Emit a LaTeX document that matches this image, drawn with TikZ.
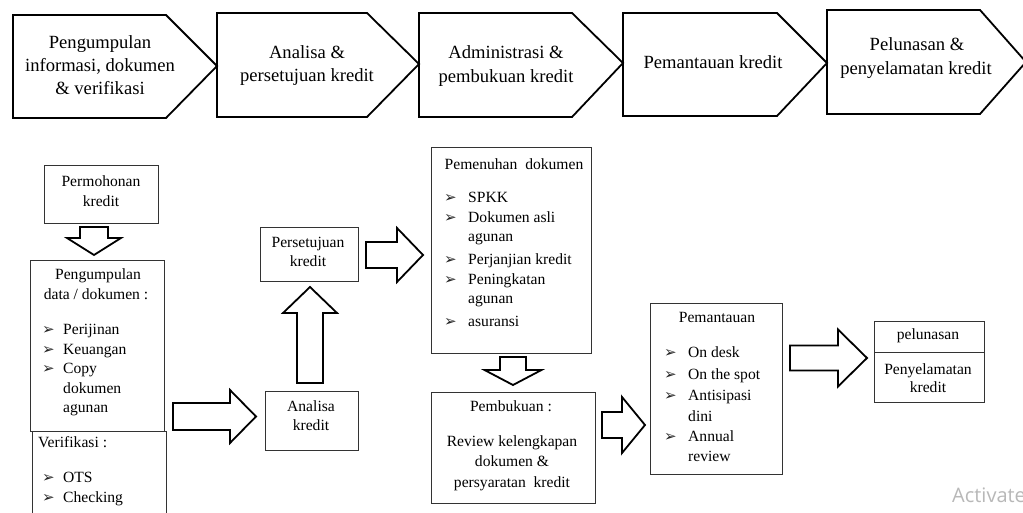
\documentclass[tikz,border=0pt]{standalone}
\usepackage{fontspec}
\setmainfont{Liberation Serif}
\newfontfamily\dejavu{DejaVu Sans}
\newfontfamily\wmfont{Open Sans}
\newcommand{\rarr}[6]{% x0, xbase, xtip, yc, shaft half, head half
  \draw[barrow] (#1,#4-#5) -- (#2,#4-#5) -- (#2,#4-#6) -- (#3,#4) -- (#2,#4+#6) -- (#2,#4+#5) -- (#1,#4+#5) -- cycle;}
\newcommand{\varr}[6]{% y0, ybase, ytip, xc, shaft half, head half
  \draw[barrow] (#4-#5,#1) -- (#4-#5,#2) -- (#4-#6,#2) -- (#4,#3) -- (#4+#6,#2) -- (#4+#5,#2) -- (#4+#5,#1) -- cycle;}
\begin{document}
\begin{tikzpicture}[x=1pt,y=-1pt,
  toptxt/.style={font=\fontsize{18.6}{23}\selectfont, inner sep=0, anchor=base},
  bt/.style={font=\fontsize{15.6}{20}\selectfont, inner sep=0, anchor=base},
  btl/.style={bt, anchor=base west},
  bul/.style={font=\dejavu\fontsize{15}{15}\selectfont, text=black!85, inner sep=0, anchor=base west},
  box/.style={draw=black!80, line width=0.9, inner sep=0, anchor=north west},
  barrow/.style={draw=black, line width=1.8, fill=white, line join=miter},
  chev/.style={draw=black, line width=1.8, line join=miter}]
\useasboundingbox[fill=white] (0,0) rectangle (1023,513);

% ---- top chevrons ----
\draw[chev] (13,15) -- (166,15) -- (217,66) -- (166,118) -- (13,118) -- cycle;
\draw[chev] (217,13) -- (367,13) -- (419,64) -- (367,117) -- (217,117) -- cycle;
\draw[chev] (419,13) -- (572,13) -- (623,63) -- (572,117) -- (419,117) -- cycle;
\draw[chev] (623,13) -- (777,13) -- (827,63) -- (777,116) -- (623,116) -- cycle;
\draw[chev] (827,10) -- (980,10) -- (1026,62) -- (980,114) -- (827,114) -- cycle;

\node[toptxt] (c1a) at (100,48.5) {Pengumpulan};
\node[toptxt] (c1b) at (100,71.5) {informasi, dokumen};
\node[toptxt] (c1c) at (100,94.5) {\& verifikasi};
\node[toptxt] (c2a) at (307,58.5) {Analisa \&};
\node[toptxt] (c2b) at (307,81.5) {persetujuan kredit};
\node[toptxt] (c3a) at (506,58.5) {Administrasi \&};
\node[toptxt] (c3b) at (506,83) {pembukuan kredit};
\node[toptxt] (c4a) at (713,68.5) {Pemantauan kredit};
\node[toptxt] (c5a) at (917,50.5) {Pelunasan \&};
\node[toptxt] (c5b) at (916,74.5) {penyelamatan kredit};

% ---- boxes ----
\node[box, minimum width=114, minimum height=58] (perm) at (44,165) {};
\node[box, minimum width=134, minimum height=171] (peng) at (30,260) {};
\node[box, minimum width=134, minimum height=100] (verif) at (32,431) {};
\node[box, minimum width=98, minimum height=54] (pers) at (260,227) {};
\node[box, minimum width=93, minimum height=59] (anal) at (265,391) {};
\node[box, minimum width=160, minimum height=206] (pemen) at (431,147) {};
\node[box, minimum width=164, minimum height=111] (pembuk) at (431,392) {};
\node[box, minimum width=132, minimum height=171] (pemant) at (650,303) {};
\node[box, minimum width=110, minimum height=31] (pelun) at (874,321) {};
\node[box, minimum width=110, minimum height=50] (penyel) at (874,352) {};

% ---- block arrows ----
\varr{227}{238}{255}{94}{14}{27}
\rarr{173}{230}{256}{416.5}{13.5}{26.5}
\varr{383}{313}{287}{310}{13}{27}
\rarr{366}{397}{423}{255}{13}{27}
\varr{357}{370}{385}{513}{13}{28.5}
\rarr{602}{622}{645}{425}{13}{28}
\rarr{790}{838}{867}{358}{12.5}{28.5}

% ---- box texts ----
\node[bt] (t1) at (101,186.5) {Permohonan};
\node[bt] (t2) at (101,206.5) {kredit};

\node[bt] (t3) at (98,279.5) {Pengumpulan};
\node[bt] (t4) at (96,299.5) {data / dokumen :};
\node[bul] (b1) at (42,334.5) {➢}; \node[btl] (t5) at (63,334.5) {Perijinan};
\node[bul] (b2) at (42,354) {➢}; \node[btl] (t6) at (63,354) {Keuangan};
\node[bul] (b3) at (42,373.5) {➢}; \node[btl] (t7) at (63,373.5) {Copy};
\node[btl] (t8) at (63,393) {dokumen};
\node[btl] (t9) at (63,412.5) {agunan};

\node[btl] (t10) at (38,447.5) {Verifikasi :};
\node[bul] (b4) at (42,482.5) {➢}; \node[btl] (t11) at (63,482.5) {OTS};
\node[bul] (b5) at (42,502.5) {➢}; \node[btl] (t12) at (63,502.5) {Checking};

\node[bt] (t13) at (308,247.5) {Persetujuan};
\node[bt] (t14) at (308,266.5) {kredit};
\node[bt] (t15) at (311,411.5) {Analisa};
\node[bt] (t16) at (311,430.5) {kredit};

\node[bt] (t17) at (514,169.5) {Pemenuhan\ \ dokumen};
\node[bul] (b6) at (444,202.5) {➢}; \node[btl] (t18) at (468,202.5) {SPKK};
\node[bul] (b7) at (444,222.5) {➢}; \node[btl] (t19) at (468,222.5) {Dokumen asli};
\node[btl] (t20) at (468,241.5) {agunan};
\node[bul] (b8) at (444,264.5) {➢}; \node[btl] (t21) at (468,264.5) {Perjanjian kredit};
\node[bul] (b9) at (444,284.5) {➢}; \node[btl] (t22) at (468,284.5) {Peningkatan};
\node[btl] (t23) at (468,303.5) {agunan};
\node[bul] (b10) at (444,326.5) {➢}; \node[btl] (t24) at (468,326.5) {asuransi};

\node[bt] (t25) at (511,411.5) {Pembukuan :};
\node[bt] (t26) at (512,446.5) {Review kelengkapan};
\node[bt] (t27) at (512,466.5) {dokumen \&};
\node[bt] (t28) at (512,487.5) {persyaratan\ \ kredit};

\node[bt] (t29) at (717,322.5) {Pemantauan};
\node[bul] (b11) at (664,357.5) {➢}; \node[btl] (t30) at (688,357.5) {On desk};
\node[bul] (b12) at (664,379.5) {➢}; \node[btl] (t31) at (688,379.5) {On the spot};
\node[bul] (b13) at (664,400.5) {➢}; \node[btl] (t32) at (688,400.5) {Antisipasi};
\node[btl] (t33) at (688,421.5) {dini};
\node[bul] (b14) at (664,441.5) {➢}; \node[btl] (t34) at (688,441.5) {Annual};
\node[btl] (t35) at (688,461.5) {review};

\node[bt] (t36) at (928,339.5) {pelunasan};
\node[bt] (t37) at (928,374.5) {Penyelamatan};
\node[bt] (t38) at (928,392.5) {kredit};

\node[font=\wmfont\fontsize{20}{20}\selectfont, text=black!28, inner sep=0, anchor=base west] (wm) at (952,502) {Activate};
\end{tikzpicture}
\end{document}
